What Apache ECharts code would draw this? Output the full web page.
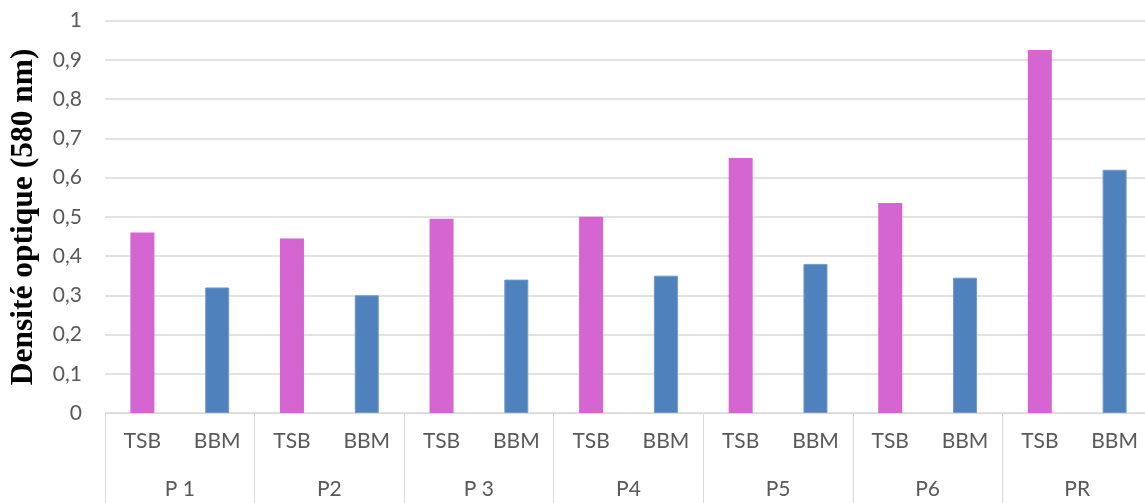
<!DOCTYPE html>
<html>
<head>
<meta charset="utf-8">
<script src="https://cdn.jsdelivr.net/npm/echarts@6/dist/echarts.min.js"></script>
<style>
  html, body { margin: 0; padding: 0; background: #ffffff; overflow: hidden; }
  /* the plot area runs a few pixels past the right edge of the window */
  #chart { width: 1152px; height: 503px; }
</style>
</head>
<body>
<div id="chart"></div>
<script>
// Optical density at 580 nm per strain, in two culture media
const groups = ['P 1', 'P2', 'P 3', 'P4', 'P5', 'P6', 'PR'];
const media = ['TSB', 'BBM'];
const tsbValues = [0.46, 0.445, 0.495, 0.5, 0.65, 0.535, 0.925];
const bbmValues = [0.32, 0.30, 0.34, 0.35, 0.38, 0.345, 0.62];
const yTicks = { min: 0, max: 1, interval: 0.1 };

const mediumColors = { TSB: '#d565d1', BBM: '#4f81bd' };
const textColor = '#595959';
const gridColor = '#d9d9d9';
const labelFont = 'Lato, "Open Sans", sans-serif';

// Inner level: one category per medium inside each strain
const innerCategories = groups.flatMap(() => media);
const barData = groups.flatMap((g, i) => [
  { value: tsbValues[i], itemStyle: { color: mediumColors.TSB } },
  { value: bbmValues[i], itemStyle: { color: mediumColors.BBM, borderColor: '#7299c9', borderWidth: 1 } }
]);

const chart = echarts.init(document.getElementById('chart'), null, { renderer: 'canvas' });
chart.setOption({
  animation: false,
  backgroundColor: '#ffffff',
  grid: { left: 102, right: 0, top: 20.7, bottom: 90, containLabel: false },
  xAxis: [
    {
      type: 'category',
      data: innerCategories,
      position: 'bottom',
      axisLine: { show: true, lineStyle: { color: gridColor, width: 1 } },
      axisTick: { show: false },
      axisLabel: { interval: 0, margin: 18, color: textColor, fontFamily: labelFont, fontSize: 21 }
    },
    {
      type: 'category',
      data: groups,
      position: 'bottom',
      axisLine: { show: false },
      axisTick: { show: true, interval: 0, length: 92, lineStyle: { color: gridColor, width: 1 } },
      axisLabel: { interval: 0, margin: 66, color: textColor, fontFamily: labelFont, fontSize: 21 }
    }
  ],
  yAxis: {
    type: 'value',
    min: yTicks.min,
    max: yTicks.max,
    interval: yTicks.interval,
    name: 'Densité optique (580 nm)',
    nameLocation: 'middle',
    nameGap: 65,
    nameTextStyle: { fontFamily: '"Liberation Serif", "Times New Roman", serif', fontWeight: 'bold', fontSize: 31.5, color: '#000000' },
    axisLine: { show: false },
    axisTick: { show: false },
    axisLabel: {
      margin: 23,
      color: textColor,
      fontFamily: labelFont,
      fontSize: 21,
      formatter: v => String(Math.round(v * 10) / 10).replace('.', ',')
    },
    splitLine: { show: true, lineStyle: { color: gridColor, width: 1.5 } }
  },
  series: [
    {
      type: 'bar',
      xAxisIndex: 0,
      data: barData,
      barWidth: 24
    }
  ]
});
</script>
</body>
</html>
